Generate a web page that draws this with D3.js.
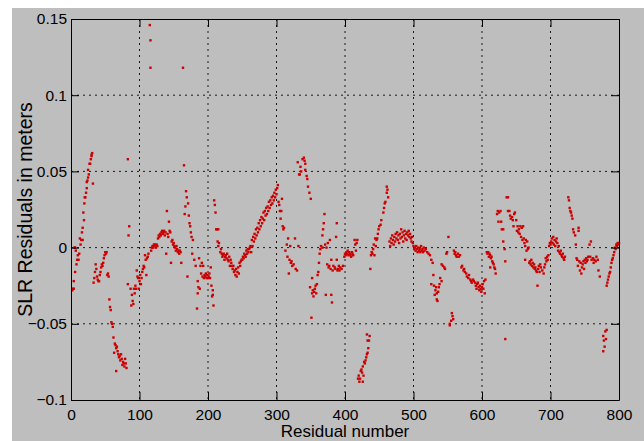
<!DOCTYPE html>
<html>
<head>
<meta charset="utf-8">
<script src="https://cdn.jsdelivr.net/npm/d3@7"></script>
<style>
  body { margin: 0; background: #fff; }
  text { font-family: "Liberation Sans", Arial, Helvetica, sans-serif; fill: #000; }
</style>
</head>
<body>
<svg width="644" height="441"></svg>
<script>
// tick values
const xTicks = [0, 100, 200, 300, 400, 500, 600, 700, 800];
const yTicks = [-0.1, -0.05, 0, 0.05, 0.1, 0.15];

// residuals: [residual number, meters]
const res000 = [
  [2,-0.028],[3,-0.027],[4,-0.027],[4,-0.022],[5,0.000],[6,-0.016],[6,0.000],[7,-0.002],[8,-0.011],[9,-0.008],
  [10,-0.005],[11,-0.008],[12,-0.004],[13,0.006],[14,0.002],[15,0.005],[16,0.010],[17,0.005],[17,0.013],[18,0.023],
  [19,0.018],[19.5,0.029],[20,0.033],[21,0.033],[22,0.036],[23,0.039],[23,0.043],[24,0.044],[25,0.046],[25,0.051],
  [26,0.048],[27,0.055],[28,0.055],[29,0.058],[30,0.061],[30,0.060],[31,0.062],[32,0.042],
  [33,-0.023],[34,-0.020],[35,-0.016],[36,-0.011],[37,-0.014],[38,-0.019],[39,-0.021],[40,-0.022],[41,-0.022],[42,-0.018],
  [43,-0.016],[44,-0.013],[45,-0.011],[46,-0.012],[47,-0.010],[48,-0.007],[49,-0.005],[50,-0.003],[51,-0.004],[52,-0.003],
  [53,-0.018],[54,-0.017],[55,-0.019],[56,-0.034],[57,-0.039],[58,-0.041],[59,-0.049],[60,-0.050],[61,-0.052],[62,-0.059],
  [63,-0.069],[64,-0.063],[65,-0.064],[66,-0.066],[66,-0.081],[67,-0.065],[68,-0.068],[69,-0.070],[70,-0.072],[71,-0.071],
  [72,-0.074],[73,-0.070],[74,-0.073],[75,-0.077],[76,-0.075],[77,-0.076],[78,-0.078],[79,-0.073],[80,-0.076],[81,-0.079],
  [83,0.058],[83,-0.024],[84,0.008],[85,0.014],[87,-0.027],[88,-0.038],[89,-0.031],[90,-0.035],[91,-0.037],[92,-0.027],
  [93,-0.030],[94,-0.025],[95,-0.027],[96,-0.015],[97,-0.019],[98,-0.020],[99,-0.027],[100,-0.022]
];
const res100 = [
  [101,-0.018],[102,-0.024],[103,-0.020],[104,-0.016],[105,-0.014],[106,-0.012],[107,-0.013],[108,-0.005],[109,-0.008],[110,-0.018],
  [111,-0.007],[112,-0.006],[113,-0.004],[115,0.146],[116,0.136],[116,0.118],[117,-0.002],[118,0.000],[119,0.001],[120,0.000],
  [121,0.002],[122,0.001],[123,0.002],[124,0.000],[125,0.002],[126,0.001],[127,0.006],[128,0.008],[129,0.007],[130,0.009],
  [131,0.008],[132,0.010],[133,0.011],[134,0.009],[135,0.010],[136,0.011],[137,0.008],[138,0.010],[139,-0.004],[140,0.024],
  [141,0.009],[142,0.007],[143,0.017],[144,0.011],[145,0.010],[146,-0.010],[147,0.004],[148,0.005],[149,0.002],[150,0.003],
  [151,0.001],[152,0.000],[153,-0.002],[154,0.001],[155,-0.001],[156,-0.003],[157,-0.002],[158,-0.004],[159,-0.002],[160,-0.003],
  [161,-0.010],[163.5,0.118],[165,0.054],[166,0.022],[167,0.027],[168,0.037],[169,0.033],[170,-0.019],[171,0.029],[172,0.021],
  [173,0.016],[174,0.014],[175,0.010],[176,0.007],[177,-0.004],[178,0.005],[180,-0.008],[182,-0.012],[184,-0.040],[185,-0.030],
  [185,-0.022],[186,-0.026],[187,-0.007],[188,-0.027],[189,-0.012],[190,-0.017],[191,-0.010],[192,-0.019],[193,-0.012],[194,-0.020],
  [195,-0.018],[196,-0.019],[197,-0.017],[198,-0.020],[199,-0.018],[200,-0.020]
];
const res200 = [
  [201,-0.019],[202,-0.017],[203,-0.020],[204,-0.013],[205,-0.025],[206,-0.032],[207,-0.028],[207,-0.031],[208,-0.038],[209,0.031],
  [210,0.028],[211,0.023],[212,0.012],[213,0.012],[214,0.004],[215,0.012],[215,0.001],[216,0.003],[218,-0.003],[219,-0.001],
  [220,-0.004],[221,-0.006],[222,-0.005],[223,-0.004],[224,-0.008],[225,-0.006],[226,-0.005],[227,-0.007],[228,-0.004],[229,-0.008],
  [230,-0.009],[231,-0.006],[232,-0.012],[233,-0.008],[234,-0.010],[235,-0.012],[236,-0.014],[237,-0.012],[238,-0.016],[239,-0.015],
  [240,-0.018],[241,-0.014],[242,-0.019],[243,-0.016],[244,-0.013],[245,-0.017],[246,-0.010],[247,-0.012],[248,-0.009],[249,-0.008],
  [250,-0.008],[251,-0.006],[252,-0.007],[253,-0.004],[254,-0.005],[255,-0.006],[256,-0.002],[257,-0.004],[258,-0.001],[259,-0.003],
  [260,-0.001],[261,0.000],[262,0.001],[263,-0.003],[264,0.005],[265,0.001],[266,0.007],[267,0.004],[268,0.009],[269,0.006],
  [270,0.012],[271,0.008],[272,0.013],[273,0.010],[274,0.016],[275,0.012],[276,0.018],[277,0.014],[278,0.020],[279,0.016],
  [280,0.019],[281,0.023],[282,0.018],[283,0.024],[284,0.021],[285,0.026],[286,0.022],[287,0.027],[288,0.024],[289,0.030],
  [290,0.026],[291,0.031],[292,0.028],[293,0.033],[294,0.029],[295,0.034],[296,0.031],[297,0.036],[298,0.033],[299,0.038],[300,0.035]
];
const res300 = [
  [301,0.039],[302,0.041],[303,0.030],[304,0.028],[305,0.024],[306,0.019],[307,0.024],[308,0.032],[309,0.014],[310,0.012],
  [311,0.013],[313,-0.002],[315,0.002],[316,-0.006],[317,0.006],[318,-0.017],[319,-0.008],[320,0.001],[321,-0.010],[322,-0.009],
  [323,-0.012],[325,-0.011],[327,0.006],[328,-0.014],[330,-0.015],[331,0.056],[332,0.001],[333,0.048],[334,0.048],[335,0.053],
  [336,0.050],[338,0.058],[340,0.059],[341,0.057],[342,0.055],[342,0.051],[344,0.047],[345,0.045],[346,0.040],[348,0.036],
  [349,-0.026],[350,0.032],[351,-0.046],[352,-0.020],[352,-0.030],[353,-0.028],[354,-0.032],[355,-0.029],[356,-0.027],[357,-0.025],
  [358,-0.030],[359,-0.024],[360,-0.018],[361,-0.016],[362,-0.010],[363,-0.004],[364,-0.001],[365,0.001],[367,0.000],[367,0.008],
  [368,0.012],[369,0.016],[370,0.022],[371,0.002],[372,-0.031],[373,0.000],[374,-0.011],[375,0.003],[376,-0.013],[377,-0.012],
  [378,0.005],[379,-0.014],[380,-0.008],[380,-0.031],[381,-0.036],[382,-0.015],[383,-0.012],[385,-0.013],[386,-0.014],[387,0.007],
  [388,0.016],[388,-0.008],[389,-0.015],[390,-0.014],[391,-0.012],[392,-0.015],[393,-0.013],[395,-0.014],[397,-0.012],[399,-0.006],[400,-0.004]
];
const res400 = [
  [401,-0.005],[402,-0.003],[403,-0.004],[404,-0.002],[405,-0.005],[406,-0.003],[407,-0.004],[408,-0.005],[409,-0.006],[410,-0.003],
  [411,-0.004],[412,-0.005],[414,0.005],[415,0.002],[416,-0.002],[417,0.003],[418,0.005],
  [419,-0.086],[420,-0.084],[421,-0.088],[422,-0.086],[423,-0.081],[424,-0.080],[425,-0.082],[426,-0.078],[426,-0.088],[427,-0.084],
  [428,-0.075],[429,-0.076],[430,-0.074],[431,-0.072],[432,-0.057],[432,-0.070],[433,-0.069],[433,-0.061],[434,-0.066],[435,-0.061],[436,-0.058],
  [437,-0.014],[438,-0.005],[439,-0.003],[440,-0.004],[441,-0.001],[442,0.002],[443,-0.005],[444,0.006],[445,0.001],[446,0.005],
  [447,0.006],[448,0.009],[449,0.012],[450,0.014],[452,0.015],[453,0.018],[456,0.023],[457,0.026],[458,0.029],[459,0.030],
  [461,0.036],[461,0.040],[462,0.038],[463,0.033],
  [465,0.004],[466,0.001],[467,0.006],[468,0.003],[469,0.008],[470,0.005],[471,0.002],[472,0.007],[473,0.004],[474,0.009],
  [475,0.006],[476,0.010],[477,0.005],[478,0.008],[479,0.003],[480,0.009],[481,0.006],[482,0.012],[483,0.007],[484,0.010],
  [485,0.004],[486,0.008],[487,0.011],[488,0.006],[489,0.009],[490,0.005],[491,0.010],[492,0.008],[493,0.011],[494,0.007],
  [495,0.009],[496,0.006],[497,0.004],[498,0.007],[499,0.003],[500,0.001]
];
const res500 = [
  [501,-0.001],[502,0.000],[503,-0.002],[504,0.001],[505,-0.001],[506,-0.003],[507,0.000],[508,-0.002],[509,-0.001],[510,-0.003],
  [511,0.001],[512,-0.002],[513,-0.001],[514,-0.003],[515,0.000],[516,-0.002],[518,-0.001],[520,-0.003],[522,-0.004],[524,-0.005],
  [526,-0.008],[526,-0.024],[528,-0.010],[529,-0.018],[530,-0.025],[531,-0.031],[532,-0.028],[533,-0.026],[534,-0.030],[534,-0.034],
  [535,-0.035],[536,-0.029],[537,-0.026],[538,-0.024],[539,-0.020],[541,-0.022],[541,-0.011],[543,-0.012],[545,-0.013],[546,-0.014],
  [548,-0.004],[549,-0.003],[551,0.007],[553,-0.050],[553,-0.051],[555,-0.048],[556,-0.043],[557,-0.045],[558,-0.047],[559,-0.002],
  [560,-0.004],[561,-0.003],[562,-0.005],[563,-0.006],[565,-0.004],[566,-0.006],[568,-0.005],[570,-0.013],[571,-0.012],[573,-0.015],
  [574,-0.014],[575,-0.016],[577,-0.017],[578,-0.019],[580,-0.020],[581,-0.018],[583,-0.021],[584,-0.022],[585,-0.023],[587,-0.021],
  [588,-0.022],[590,-0.023],[591,-0.025],[592,-0.027],[593,-0.024],[594,-0.023],[595,-0.026],[596,-0.028],[597,-0.025],[598,-0.027],
  [599,-0.029],[600,-0.026]
];
const res600 = [
  [601,-0.024],[602,-0.027],[603,-0.022],[604,-0.030],[605,-0.021],[607,-0.003],[608,-0.004],[609,-0.003],[610,-0.006],[611,-0.004],
  [612,-0.005],[612,-0.013],[613,-0.007],[614,-0.006],[615,-0.009],[616,-0.010],[617,-0.011],[618,-0.013],[619,-0.014],[620,-0.017],
  [622,0.022],[623,0.024],[624,0.017],[625,0.023],[627,0.024],[628,0.017],[629,0.012],[631,0.012],[631,0.004],[633,-0.001],
  [634,-0.009],[634,-0.060],[636,0.033],[638,0.033],[638,0.024],[640,0.024],[641,0.021],[642,0.019],[644,0.020],[645,0.018],
  [646,0.014],[647,0.022],[648,0.023],[650,0.018],[651,0.011],[652,0.014],[653,0.010],[654,0.012],[655,0.009],[656,0.014],
  [657,0.007],[658,0.013],[659,0.005],[660,0.014],[661,0.006],[662,0.003],[663,-0.008],[663,0.001],[664,0.005],[665,-0.002],
  [666,0.004],[667,-0.001],[668,0.000],[669,-0.010],[670,-0.009],[671,-0.011],[672,-0.008],[673,-0.012],[674,-0.010],[675,-0.013],
  [676,-0.011],[677,-0.014],[678,-0.013],[679,-0.015],[680,-0.016],[681,-0.025],[682,-0.014],[683,-0.012],[684,-0.016],[685,-0.011],
  [686,-0.013],[688,-0.015],[690,-0.017],[691,-0.013],[692,-0.011],[693,-0.007],[694,-0.009],[695,-0.006],[696,-0.008],[697,-0.005],
  [698,0.001],[699,0.003]
];
const res700 = [
  [700,0.002],[701,0.004],[702,0.006],[703,0.003],[704,0.007],[705,0.002],[706,0.005],[707,0.001],[708,0.004],[709,0.006],
  [710,0.003],[711,-0.002],[712,0.001],[713,-0.003],[714,-0.004],[715,-0.002],[716,-0.005],[717,-0.006],[718,-0.004],[719,-0.007],
  [720,-0.008],[721,-0.006],[726,0.033],[727,0.031],[728,0.026],[729,0.024],[730,0.023],[731,0.021],[732,0.019],[733,0.012],
  [734,0.010],[736,0.008],[737,0.002],[741,0.013],[741,0.011],[738,-0.007],[739,-0.008],[740,-0.012],[742,-0.009],[743,-0.015],
  [744,-0.010],[745,-0.017],[746,-0.013],[747,-0.011],[748,-0.009],[749,-0.014],[750,-0.008],[751,-0.010],[752,-0.007],[753,-0.009],
  [754,-0.008],[755,-0.006],[757,0.002],[759,0.004],[758,-0.006],[760,-0.008],[762,-0.007],[763,-0.010],[764,-0.008],[766,-0.009],
  [767,-0.006],[769,-0.008],[770,-0.015],[772,-0.019],[777,-0.058],[777,-0.068],[778,-0.061],[779,-0.065],[780,-0.055],[781,-0.060],
  [782,-0.054],[782,-0.025],[783,-0.023],[784,-0.021],[785,-0.019],[786,-0.017],[787,-0.016],[788,-0.013],[789,-0.010],[790,-0.008],
  [791,-0.007],[792,-0.005],[793,-0.003],[794,0.000],[795,-0.001],[796,0.002],[797,0.001],[798,0.003],[799,0.002],[800,0.003]
];

const residuals = [].concat(res000, res100, res200, res300, res400, res500, res600, res700);

const svg = d3.select("svg");
const margin = {top: 19, right: 25, bottom: 41, left: 71};
const W = +svg.attr("width"), H = +svg.attr("height");
const width = W - margin.left - margin.right;
const height = H - margin.top - margin.bottom;

// figure background
svg.append("rect")
  .attr("x", 12).attr("y", 8)
  .attr("width", W - 12).attr("height", H - 8)
  .attr("fill", "#bebebe");

const g = svg.append("g").attr("transform", `translate(${margin.left},${margin.top})`);

const x = d3.scaleLinear().domain([0, 800]).range([0, width]);
const y = d3.scaleLinear().domain([-0.1, 0.15]).range([height, 0]);

// dotted grid
g.append("g").selectAll("line")
  .data(xTicks.slice(1, -1)).join("line")
  .attr("x1", d => x(d)).attr("x2", d => x(d))
  .attr("y1", 0).attr("y2", height)
  .attr("stroke", "#1a1a1a").attr("stroke-dasharray", "2,4");
g.append("g").selectAll("line")
  .data(yTicks.slice(1, -1)).join("line")
  .attr("y1", d => y(d)).attr("y2", d => y(d))
  .attr("x1", 0).attr("x2", width)
  .attr("stroke", "#1a1a1a").attr("stroke-dasharray", "2,4");

// residual dots
g.append("g").selectAll("rect")
  .data(residuals).join("rect")
  .attr("x", d => x(d[0]) - 1.2)
  .attr("y", d => y(d[1]) - 1.2)
  .attr("width", 2.4).attr("height", 2.4)
  .attr("fill", "#cc0000");

const fmt = d => d === 0 ? "0" : String(d).replace("-", "\u2212");

function styleAxis(sel) {
  sel.select(".domain").attr("stroke", "#000");
  sel.selectAll(".tick line").attr("stroke", "#000");
  sel.selectAll("text").style("font-size", "15.5px").attr("fill", "#000");
  sel.attr("font-family", null);
}

g.append("g")
  .attr("transform", `translate(0,${height})`)
  .call(d3.axisBottom(x).tickValues(xTicks).tickFormat(fmt).tickSize(-8).tickSizeOuter(0).tickPadding(9))
  .call(styleAxis);
g.append("g")
  .call(d3.axisLeft(y).tickValues(yTicks).tickFormat(fmt).tickSize(-8).tickSizeOuter(0).tickPadding(4))
  .call(styleAxis);
g.append("g")
  .call(d3.axisTop(x).tickValues(xTicks).tickFormat("").tickSize(-8).tickSizeOuter(0))
  .call(styleAxis);
g.append("g")
  .attr("transform", `translate(${width},0)`)
  .call(d3.axisRight(y).tickValues(yTicks).tickFormat("").tickSize(-8).tickSizeOuter(0))
  .call(styleAxis);

// axis titles
svg.append("text")
  .attr("x", margin.left + width / 2).attr("y", 437)
  .attr("text-anchor", "middle")
  .style("font-size", "17px")
  .text("Residual number");
svg.append("text")
  .attr("transform", `translate(32,${margin.top + height / 2}) rotate(-90)`)
  .attr("text-anchor", "middle")
  .style("font-size", "19.5px")
  .text("SLR Residuals in meters");
</script>
</body>
</html>
